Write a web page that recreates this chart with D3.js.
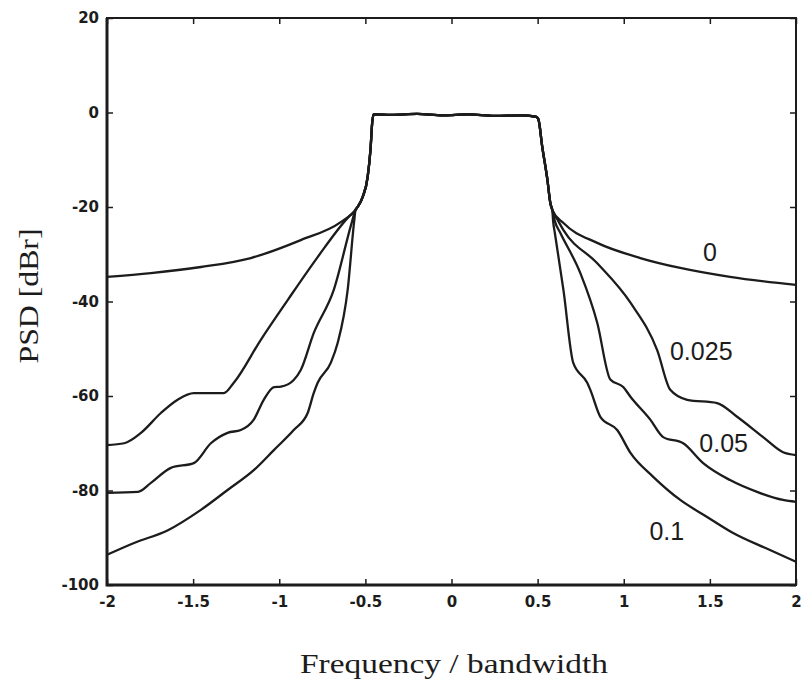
<!DOCTYPE html>
<html>
  <head>
    <title>PSD vs frequency</title>
    <script src="https://d3js.org/d3.v7.min.js"></script>
    <style>
      body { margin: 0; background: #fff; }
    </style>
  </head>
  <body>
    <script>
      // tick labels
      let xTicks = [-2, -1.5, -1, -0.5, 0, 0.5, 1, 1.5, 2]
      let xTickLabels = ['-2', '-1.5', '-1', '-0.5', '0', '0.5', '1', '1.5', '2']
      let yTicks = [-100, -80, -60, -40, -20, 0, 20]
      let yTickLabels = ['-100', '-80', '-60', '-40', '-20', '0', '20']

      // roll-off labels, one per curve
      let rolloffs = ['0', '0.025', '0.05', '0.1']

      // shared passband part [f, dB]
      let passband = [[-0.557, -20.6], [-0.545, -20], [-0.516, -17.9], [-0.487, -13.7], [-0.47, -7.7],
                      [-0.46, -2], [-0.452, -0.4], [-0.35, -0.5], [-0.2, -0.3], [-0.05, -0.6],
                      [0.1, -0.4], [0.25, -0.7], [0.4, -0.6], [0.49, -0.9], [0.504, -1.4],
                      [0.527, -7.3], [0.557, -14.3], [0.574, -19.2], [0.585, -20.6]]

      let left0 = [[-2, -34.8], [-1.745, -34], [-1.455, -32.7], [-1.165, -30.8], [-0.875, -27], [-0.643, -23.2]]
      let right0 = [[0.65, -23.4], [0.846, -27.6], [1.096, -30.8], [1.328, -32.9], [1.617, -34.8], [2, -36.5]]

      let left025 = [[-2, -70.4], [-1.9, -70], [-1.803, -67.8], [-1.687, -63.6], [-1.59, -60.8], [-1.496, -59.4],
                     [-1.322, -59.4], [-1.264, -57.2], [-1.107, -48.1], [-0.951, -39.7], [-0.777, -30.6], [-0.6, -22.2]]
      let right025 = [[0.62, -23], [0.65, -24.9], [0.846, -31.9], [1.04, -40.3], [1.194, -50.3], [1.27, -58.7],
                      [1.368, -60.8], [1.542, -61.5], [1.658, -64.4], [1.809, -68.7], [1.925, -71.9], [2, -72.5]]

      let left05 = [[-2, -80.5], [-1.82, -80.3], [-1.745, -78.4], [-1.629, -75.2], [-1.496, -74.2], [-1.397, -70],
                    [-1.3, -67.8], [-1.223, -67.2], [-1.148, -65], [-1.09, -60.8], [-1.03, -58.1], [-0.99, -58],
                    [-0.916, -56.6], [-0.875, -54.5], [-0.8, -46.7], [-0.684, -37.6], [-0.58, -23.4]]
      let right05 = [[0.6, -23], [0.632, -25.5], [0.748, -34], [0.846, -44.5], [0.922, -56.5], [0.997, -58.1],
                     [1.04, -60.2], [1.154, -65], [1.229, -68.7], [1.345, -70], [1.461, -74.2], [1.617, -77.8],
                     [1.774, -80.3], [1.925, -82], [2, -82.4]]

      let left1 = [[-2, -93.6], [-1.843, -91.1], [-1.646, -88.4], [-1.455, -84.1], [-1.3, -79.9], [-1.148, -75.7],
                   [-1.03, -71.4], [-0.916, -67.2], [-0.835, -63.6], [-0.8, -59.4], [-0.777, -57.2], [-0.701, -53],
                   [-0.661, -48.8], [-0.603, -37.6], [-0.565, -23]]
      let right1 = [[0.59, -23], [0.6, -25.5], [0.65, -37.6], [0.707, -53], [0.788, -57.2], [0.806, -58.7],
                    [0.864, -64.4], [0.962, -67.2], [1.04, -72.1], [1.171, -77.1], [1.328, -82], [1.484, -85.6],
                    [1.635, -89], [1.849, -92.6], [2, -95.1]]

      let curves = [
        left0.concat(passband, right0),
        left025.concat(passband, right025),
        left05.concat(passband, right05),
        left1.concat(passband, right1)
      ]

      // where each roll-off label sits [f, dB]
      let labelPos = [[1.5, -30], [1.45, -51], [1.58, -70.5], [1.25, -89]]

      let width = 801, height = 683
      let ink = '#1c1c1c'

      let svg = d3.select('body').append('svg')
                  .attr('width', width)
                  .attr('height', height)

      let xScale = d3.scaleLinear().domain([-2, 2]).range([107, 796])
      let yScale = d3.scaleLinear().domain([-100, 20]).range([585, 18])

      // frame: heavier on left and bottom like the scan
      svg.append('rect')
         .attr('x', xScale(-2)).attr('y', yScale(20))
         .attr('width', xScale(2) - xScale(-2))
         .attr('height', yScale(-100) - yScale(20))
         .attr('fill', 'none').attr('stroke', ink).attr('stroke-width', 2)
      svg.append('path')
         .attr('d', `M${xScale(-2)},${yScale(20)}V${yScale(-100)}H${xScale(2)}`)
         .attr('fill', 'none').attr('stroke', ink).attr('stroke-width', 3)

      let xAxis = d3.axisBottom(xScale).tickValues(xTicks)
                    .tickFormat((d, i) => xTickLabels[i])
                    .tickSizeInner(-6).tickSizeOuter(0).tickPadding(11)
      let yAxis = d3.axisLeft(yScale).tickValues(yTicks)
                    .tickFormat((d, i) => yTickLabels[i])
                    .tickSizeInner(-6).tickSizeOuter(0).tickPadding(8)

      svg.append('g').attr('transform', `translate(0, ${yScale(-100)})`).call(xAxis)
      svg.append('g').attr('transform', `translate(${xScale(-2)}, 0)`).call(yAxis)
      // inward ticks on top and right too
      svg.append('g').attr('transform', `translate(0, ${yScale(20)})`)
         .call(d3.axisTop(xScale).tickValues(xTicks).tickFormat('').tickSizeInner(-6).tickSizeOuter(0))
      svg.append('g').attr('transform', `translate(${xScale(2)}, 0)`)
         .call(d3.axisRight(yScale).tickValues(yTicks).tickFormat('').tickSizeInner(-6).tickSizeOuter(0))

      svg.selectAll('.domain').remove()
      svg.selectAll('.tick line').attr('stroke', ink).attr('stroke-width', 1.5)
      svg.selectAll('.tick text')
         .attr('fill', ink)
         .style('font-family', 'DejaVu Sans, Arial, sans-serif')
         .style('font-size', '15px')
         .style('font-weight', 'bold')

      let line = d3.line()
                   .x(d => xScale(d[0]))
                   .y(d => yScale(d[1]))
                   .curve(d3.curveMonotoneX)

      svg.selectAll('path.psd').data(curves)
         .enter().append('path')
         .attr('class', 'psd')
         .attr('d', d => line(d))
         .attr('fill', 'none')
         .attr('stroke', ink)
         .attr('stroke-width', 2.3)
         .attr('stroke-linejoin', 'round')

      svg.selectAll('text.rolloff').data(rolloffs)
         .enter().append('text')
         .attr('class', 'rolloff')
         .attr('x', (d, i) => xScale(labelPos[i][0]))
         .attr('y', (d, i) => yScale(labelPos[i][1]))
         .attr('text-anchor', 'middle')
         .attr('dominant-baseline', 'middle')
         .attr('fill', ink)
         .style('font-family', 'Liberation Sans, Arial, sans-serif')
         .style('font-size', '25px')
         .text(d => d)

      svg.append('text')
         .attr('x', 454).attr('y', 673)
         .attr('text-anchor', 'middle')
         .attr('textLength', 308).attr('lengthAdjust', 'spacingAndGlyphs')
         .attr('fill', ink)
         .style('font-family', 'Liberation Serif, Times New Roman, serif')
         .style('font-size', '27px')
         .text('Frequency / bandwidth')

      svg.append('text')
         .attr('transform', 'translate(38, 296) rotate(-90)')
         .attr('text-anchor', 'middle')
         .attr('textLength', 135).attr('lengthAdjust', 'spacingAndGlyphs')
         .attr('fill', ink)
         .style('font-family', 'Liberation Serif, Times New Roman, serif')
         .style('font-size', '27px')
         .text('PSD [dBr]')
    </script>
  </body>
</html>
